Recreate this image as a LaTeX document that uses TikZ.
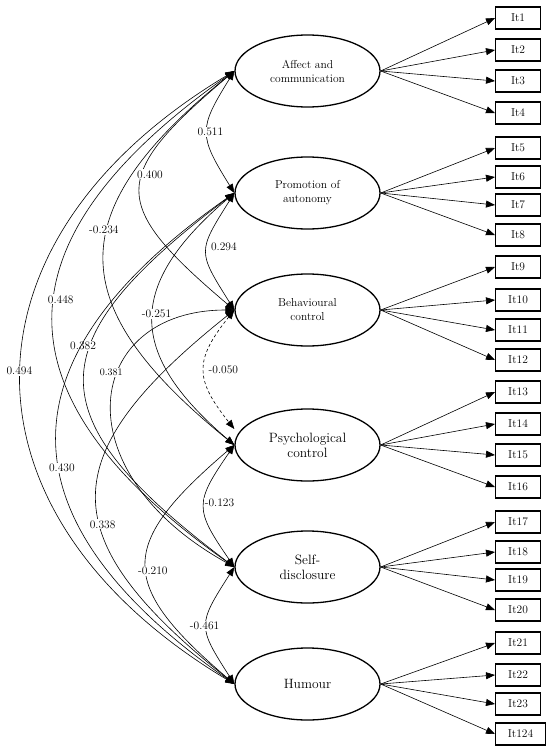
\documentclass[tikz,border=0pt]{standalone}
\usepackage{tikz}
\usetikzlibrary{arrows.meta, positioning, shapes.geometric}

\begin{document}
\begin{tikzpicture}[
  x=1pt, y=-1pt,
  factor/.style={draw, ellipse, line width=1.3pt, minimum width=145pt,
    minimum height=72pt, align=center, inner sep=0pt},
  smallf/.style={font=\fontsize{11.5}{14}\selectfont},
  bigf/.style={font=\fontsize{13.5}{15}\selectfont},
  item/.style={draw, line width=1.1pt, minimum width=45pt, minimum height=22pt,
    anchor=west, inner sep=2pt, font=\fontsize{11.5}{12}\selectfont},
  load/.style={->, line width=0.6pt},
  corr/.style={<->, line width=0.6pt},
  coef/.style={fill=white, inner sep=1pt, font=\fontsize{11.5}{12}\selectfont},
  >={Triangle[length=9pt, width=7pt]}
]
  \useasboundingbox (0,0) rectangle (550,752);

  % factors
  \node[factor, smallf] (aff) at (307.5,71) {Affect and\\communication};
  \node[factor, smallf] (prom) at (307.5,193) {Promotion of\\autonomy};
  \node[factor, smallf] (behav) at (307.5,310) {Behavioural\\control};
  \node[factor, bigf] (psych) at (307.5,445) {Psychological\\control};
  \node[factor, bigf] (selfd) at (307.5,567) {Self-\\disclosure};
  \node[factor, bigf] (hum) at (307.5,684) {Humour};

  % Affect and communication items
  \node[item] (it1) at (495,18) {It1};
  \node[item] (it2) at (495,50) {It2};
  \node[item] (it3) at (495,81) {It3};
  \node[item] (it4) at (495,113) {It4};
  \draw[load] (aff.east) -- (it1.west);
  \draw[load] (aff.east) -- (it2.west);
  \draw[load] (aff.east) -- (it3.west);
  \draw[load] (aff.east) -- (it4.west);

  % Promotion of autonomy items
  \node[item] (it5) at (495,148) {It5};
  \node[item] (it6) at (495,177) {It6};
  \node[item] (it7) at (495,205) {It7};
  \node[item] (it8) at (495,235) {It8};
  \draw[load] (prom.east) -- (it5.west);
  \draw[load] (prom.east) -- (it6.west);
  \draw[load] (prom.east) -- (it7.west);
  \draw[load] (prom.east) -- (it8.west);

  % Behavioural control items
  \node[item] (it9) at (495,267) {It9};
  \node[item] (it10) at (495,300) {It10};
  \node[item] (it11) at (495,330) {It11};
  \node[item] (it12) at (495,360) {It12};
  \draw[load] (behav.east) -- (it9.west);
  \draw[load] (behav.east) -- (it10.west);
  \draw[load] (behav.east) -- (it11.west);
  \draw[load] (behav.east) -- (it12.west);

  % Psychological control items
  \node[item] (it13) at (495,392) {It13};
  \node[item] (it14) at (495,424) {It14};
  \node[item] (it15) at (495,455) {It15};
  \node[item] (it16) at (495,487) {It16};
  \draw[load] (psych.east) -- (it13.west);
  \draw[load] (psych.east) -- (it14.west);
  \draw[load] (psych.east) -- (it15.west);
  \draw[load] (psych.east) -- (it16.west);

  % Self-disclosure items
  \node[item] (it17) at (495,522) {It17};
  \node[item] (it18) at (495,552) {It18};
  \node[item] (it19) at (495,580) {It19};
  \node[item] (it20) at (495,610) {It20};
  \draw[load] (selfd.east) -- (it17.west);
  \draw[load] (selfd.east) -- (it18.west);
  \draw[load] (selfd.east) -- (it19.west);
  \draw[load] (selfd.east) -- (it20.west);

  % Humour items
  \node[item] (it21) at (495,643) {It21};
  \node[item] (it22) at (495,675) {It22};
  \node[item] (it23) at (495,704) {It23};
  \node[item, minimum width=50pt] (it24) at (495,734) {It124};
  \draw[load] (hum.east) -- (it21.west);
  \draw[load] (hum.east) -- (it22.west);
  \draw[load] (hum.east) -- (it23.west);
  \draw[load] (hum.east) -- (it24.west);

  % correlations
  \draw[corr] (aff.west) .. controls +(-36,58) and +(-36,-58) .. (prom.west)
    node[coef, pos=0.5, xshift=3pt] {0.511};
  \draw[corr] (aff.west) .. controls +(-125,106) and +(-125,-106) .. (behav.west)
    node[coef, pos=0.42, xshift=7pt] {0.400};
  \draw[corr] (aff.west) .. controls +(-173,140) and +(-173,-140) .. (psych.west)
    node[coef, pos=0.42, xshift=-4pt] {-0.234};
  \draw[corr] (aff.west) .. controls +(-241,170) and +(-241,-170) .. (selfd.west)
    node[coef, pos=0.46, xshift=6pt] {0.448};
  \draw[corr] (aff.west) .. controls +(-284,170) and +(-284,-170) .. (hum.west)
    node[coef, pos=0.49, xshift=-2pt] {0.494};
  \draw[corr] (prom.west) .. controls +(-37,59) and +(-37,-59) .. (behav.west)
    node[coef, pos=0.45, xshift=17pt] {0.294};
  \draw[corr] (prom.west) .. controls +(-108,92) and +(-108,-92) .. (psych.west)
    node[coef, pos=0.48, xshift=3pt] {-0.251};
  \draw[corr] (prom.west) .. controls +(-199,150) and +(-199,-150) .. (selfd.west)
    node[coef, pos=0.4, xshift=-8pt] {0.382};
  \draw[corr] (prom.west) .. controls +(-236,165) and +(-236,-165) .. (hum.west)
    node[coef, pos=0.56, xshift=2pt] {0.430};
  \draw[corr, dash pattern=on 3pt off 2.5pt] (behav.west) .. controls +(-40,50) and +(-40,-50) .. ([yshift=16pt]psych.west)
    node[coef, pos=0.5, xshift=19pt] {-0.050};
  \draw[corr] (behav.west) .. controls +(-150,0) and +(-175,-97) .. (selfd.west)
    node[coef, pos=0.4, xshift=-8pt, font=\fontsize{10}{11}\selectfont] {0.381};
  \draw[corr] (behav.west) .. controls +(-183,146) and +(-183,-146) .. (hum.west)
    node[coef, pos=0.58, xshift=2pt] {0.338};
  \draw[corr] (psych.west) .. controls +(-40,58) and +(-40,-58) .. (selfd.west)
    node[coef, pos=0.47, xshift=15pt] {-0.123};
  \draw[corr] (psych.west) .. controls +(-117,100) and +(-117,-100) .. (hum.west)
    node[coef, pos=0.53, xshift=6pt] {-0.210};
  \draw[corr] (selfd.west) .. controls +(-37,58) and +(-37,-58) .. (hum.west)
    node[coef, pos=0.5, xshift=-2pt] {-0.461};
\end{tikzpicture}
\end{document}
